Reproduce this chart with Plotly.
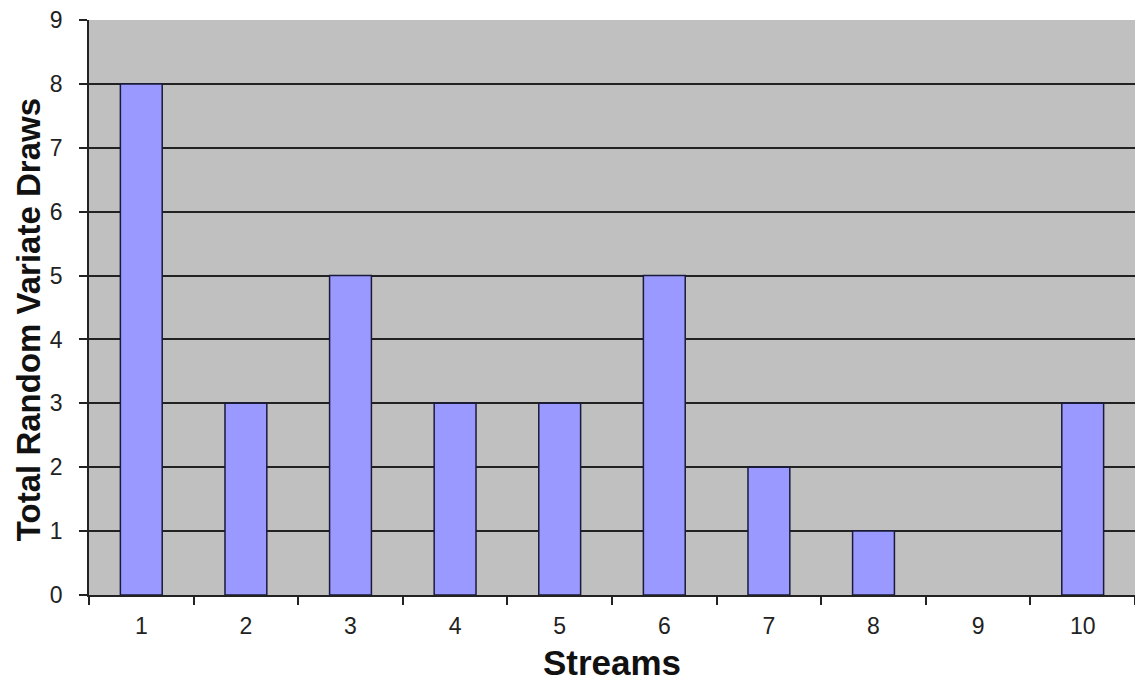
import plotly.graph_objects as go

streams = [1, 2, 3, 4, 5, 6, 7, 8, 9, 10]
draws = [8, 3, 5, 3, 3, 5, 2, 1, 0, 3]
tick_labels = [str(s) for s in streams]

fig = go.Figure(go.Bar(
    x=tick_labels, y=draws,
    marker=dict(color="#9999FF",
                line=dict(color="#1a1a3a", width=[1.5 if v > 0 else 0 for v in draws])),
))

fig.update_layout(
    width=1135, height=684,
    margin=dict(l=89, r=0, t=20, b=89),
    paper_bgcolor="white", plot_bgcolor="#C0C0C0",
    bargap=0.6, showlegend=False,
    font=dict(family="Arial, Liberation Sans, sans-serif", color="#222222"),
)
fig.update_xaxes(
    type="category", tickson="boundaries", ticks="outside", ticklen=8, tickwidth=1.5,
    tickcolor="#222", showline=True, linecolor="#222", linewidth=1.5,
    tickfont=dict(size=23), ticklabelstandoff=10,
    title=dict(text="<b>Streams</b>", font=dict(size=35, color="#111"), standoff=12),
)
fig.update_yaxes(
    range=[0, 9], dtick=1, ticks="outside", ticklen=8, tickwidth=1.5, tickcolor="#222",
    showline=True, linecolor="#222", linewidth=1.5,
    showgrid=True, gridcolor="#222", gridwidth=1.5, zeroline=False,
    tickfont=dict(size=23), ticklabelstandoff=12,
)
fig.add_annotation(
    text="<b>Total Random Variate Draws</b>", textangle=-90,
    xref="paper", yref="paper", x=0, y=0.478, xshift=-61,
    xanchor="center", yanchor="middle", showarrow=False,
    font=dict(size=33, color="#111"),
)
fig.write_html("out.html")
